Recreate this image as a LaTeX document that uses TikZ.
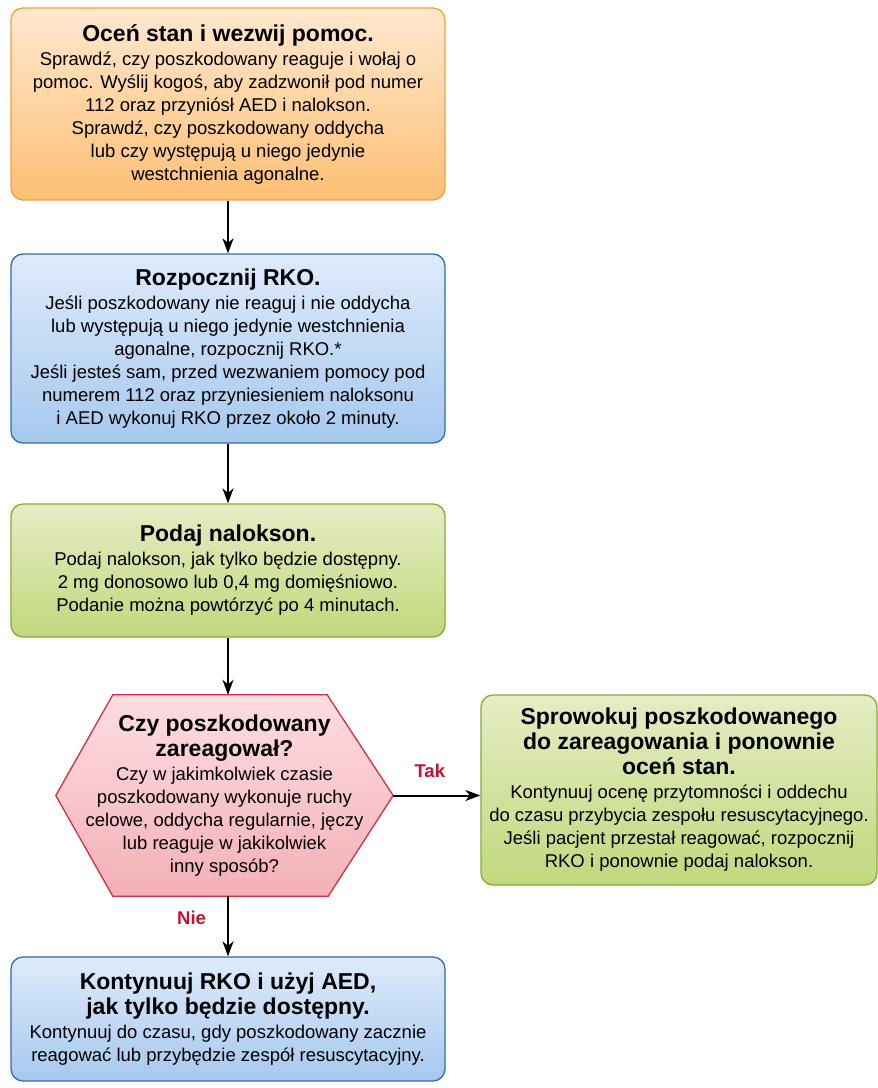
\documentclass[tikz,border=0pt]{standalone}
\usepackage{fontspec}
\setmainfont{Liberation Sans}
\usetikzlibrary{arrows.meta,positioning,backgrounds}
\newcommand{\bodyFont}[0]{\fontsize{18.5}{23}\selectfont}
\newcommand{\titleFont}[0]{\fontsize{23}{25}\selectfont\bfseries}
\newcommand{\boxWidth}[0]{434pt}
\definecolor{orangeTop}{HTML}{FFE8CF}
\definecolor{orangeBottom}{HTML}{FDBF74}
\definecolor{orangeLine}{HTML}{EBA240}
\definecolor{blueTop}{HTML}{DEEBFB}
\definecolor{blueBottom}{HTML}{A6C8EE}
\definecolor{blueLine}{HTML}{2E6CAE}
\definecolor{greenTop}{HTML}{E5ECC4}
\definecolor{greenBottom}{HTML}{C1D87C}
\definecolor{greenLine}{HTML}{84AB3B}
\definecolor{pinkTop}{HTML}{FDDDE1}
\definecolor{pinkBottom}{HTML}{F3B0B7}
\definecolor{pinkLine}{HTML}{D42F3E}
\definecolor{answerRed}{HTML}{C0152F}

\begin{document}
\begin{tikzpicture}[x=1pt, y=-1pt]
  \tikzset{flowBox/.style={draw, line width=1.3pt, rounded corners=12pt, align=center,
      font=\bodyFont, inner sep=0pt, minimum width=\boxWidth},
    orangeBox/.style={flowBox, draw=orangeLine, top color=orangeTop, bottom color=orangeBottom},
    blueBox/.style={flowBox, draw=blueLine, top color=blueTop, bottom color=blueBottom},
    greenBox/.style={flowBox, draw=greenLine, top color=greenTop, bottom color=greenBottom},
    decisionBox/.style={draw=pinkLine, line width=1.3pt, top color=pinkTop, bottom color=pinkBottom},
    flowArrow/.style={line width=2pt, -{Stealth[length=15pt, width=11pt, inset=4.5pt]}},
    answerLabel/.style={font=\fontsize{18.5}{22}\selectfont\bfseries, text=answerRed, inner sep=0pt}}
  \useasboundingbox (0,0) rectangle (878,1088);
  \node[orangeBox, minimum height=192pt] (OCEN) at (228,104)
    {{\titleFont Oceń stan i wezwij pomoc.}\\[1pt]
     Sprawdź, czy poszkodowany reaguje i wołaj o\\
     pomoc. Wyślij kogoś, aby zadzwonił pod numer\\
     112 oraz przyniósł AED i nalokson.\\
     Sprawdź, czy poszkodowany oddycha\\
     lub czy występują u niego jedynie\\
     westchnienia agonalne.};
  \node[blueBox, minimum height=189pt] (RKO) at (228,348.5)
    {{\titleFont Rozpocznij RKO.}\\[1pt]
     Jeśli poszkodowany nie reaguj i nie oddycha\\
     lub występują u niego jedynie westchnienia\\
     agonalne, rozpocznij RKO.*\\
     Jeśli jesteś sam, przed wezwaniem pomocy pod\\
     numerem 112 oraz przyniesieniem naloksonu\\
     i AED wykonuj RKO przez około 2 minuty.};
  \node[greenBox, minimum height=133pt] (NALOKSON) at (228,570.5)
    {{\titleFont Podaj nalokson.}\\[1pt]
     Podaj nalokson, jak tylko będzie dostępny.\\
     2 mg donosowo lub 0,4 mg domięśniowo.\\
     Podanie można powtórzyć po 4 minutach.};
  \node[align=center, font=\bodyFont, inner sep=0pt, minimum width=337pt, minimum height=201pt]
    (CZY) at (224.5,795.5)
    {{\titleFont Czy poszkodowany}\\[2pt]
     {\titleFont zareagował?}\\[1pt]
     Czy w jakimkolwiek czasie\\
     poszkodowany wykonuje ruchy\\
     celowe, oddycha regularnie, jęczy\\
     lub reaguje w jakikolwiek\\
     inny sposób?};
  \begin{scope}[on background layer]
    \draw[decisionBox] (CZY.west) -- ([xshift=57pt]CZY.north west) -- ([xshift=-66pt]CZY.north east)
      -- (CZY.east) -- ([xshift=-65pt]CZY.south east) -- ([xshift=57pt]CZY.south west) -- cycle;
  \end{scope}
  \node[greenBox, minimum width=396pt, minimum height=190pt] (SPROWOKUJ) at (679,790)
    {{\titleFont Sprowokuj poszkodowanego}\\[2pt]
     {\titleFont do zareagowania i ponownie}\\[2pt]
     {\titleFont oceń stan.}\\[1pt]
     Kontynuuj ocenę przytomności i oddechu\\
     do czasu przybycia zespołu resuscytacyjnego.\\
     Jeśli pacjent przestał reagować, rozpocznij\\
     RKO i ponownie podaj nalokson.};
  \node[blueBox, minimum height=124pt] (KONTYNUUJ) at (228,1019)
    {{\titleFont Kontynuuj RKO i użyj AED,}\\[2pt]
     {\titleFont jak tylko będzie dostępny.}\\[1pt]
     Kontynuuj do czasu, gdy poszkodowany zacznie\\
     reagować lub przybędzie zespół resuscytacyjny.};
  % connectors
  \draw[flowArrow] (OCEN) -- (RKO);
  \draw[flowArrow] (RKO) -- (NALOKSON);
  \draw[flowArrow] (NALOKSON.south) -- (NALOKSON.south |- CZY.north);
  \draw[flowArrow] (CZY.east) -- node[answerLabel, above=17pt, pos=0.42] {Tak} (CZY.east -| SPROWOKUJ.west);
  \draw[flowArrow] (KONTYNUUJ.north |- CZY.south) -- node[answerLabel, left=21pt, pos=0.36] {Nie} (KONTYNUUJ.north);
\end{tikzpicture}
\end{document}
